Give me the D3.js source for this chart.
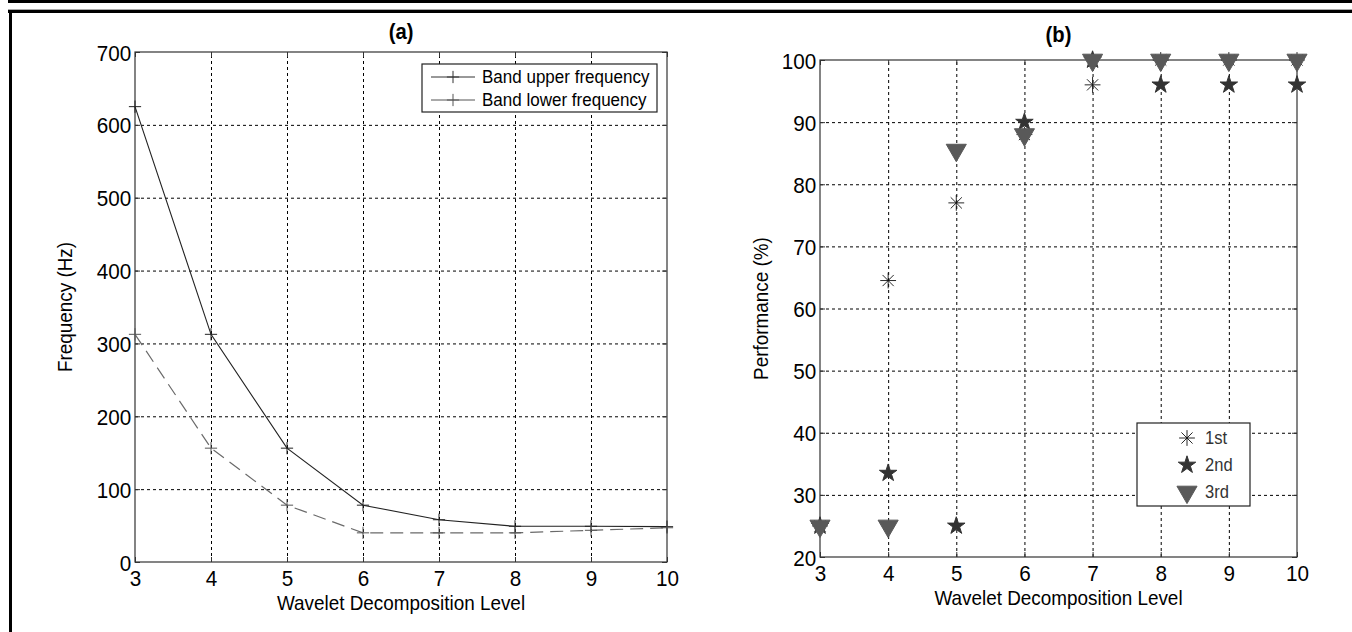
<!DOCTYPE html>
<html>
<head>
<meta charset="utf-8">
<script src="https://cdn.jsdelivr.net/npm/d3@7"></script>
<style>
  body { margin: 0; background: #fff; }
  svg { display: block; font-family: "Liberation Sans", Arial, sans-serif; }
  .grid line { stroke: #000; stroke-dasharray: 3,3; stroke-width: 1; }
  .grid path { display: none; }
  .ax path, .ax line { stroke: #333; }
  .ax text { font-size: 22.5px; fill: #000; }
</style>
</head>
<body>
<div id="fig"></div>
<script>
// panel (a)
var levels = [3, 4, 5, 6, 7, 8, 9, 10];
var upperFreq = [625, 312.5, 156.25, 78, 58, 49, 49, 48.5];
var lowerFreq = [312.5, 156.25, 78, 40, 40, 40, 43.5, 47];
var freqTicks = [0, 100, 200, 300, 400, 500, 600, 700];

// panel (b)
var perf1st = [25, 64.5, 77, 88, 96, 100, 100, 100];
var perf2nd = [25, 33.5, 25, 90, 100, 96, 96, 96];
var perf3rd = [25, 25, 85.5, 88, 100, 100, 100, 100];
var perfTicks = [20, 30, 40, 50, 60, 70, 80, 90, 100];

var W = 1352, H = 632;
var svg = d3.select("#fig").append("svg").attr("width", W).attr("height", H);

// page frame lines
svg.append("rect").attr("x", 8).attr("y", 0).attr("width", W - 8).attr("height", 3).attr("fill", "#000");
svg.append("rect").attr("x", 8).attr("y", 9).attr("width", W - 8).attr("height", 1).attr("fill", "#aaa");
svg.append("rect").attr("x", 8).attr("y", 10).attr("width", W - 8).attr("height", 3).attr("fill", "#000");
svg.append("rect").attr("x", 9).attr("y", 10).attr("width", 3).attr("height", H - 10).attr("fill", "#000");

// marker shapes (matlab style)
var plusType = { draw: function (c, size) {
  var r = Math.sqrt(size) / 2;
  c.moveTo(-r, 0); c.lineTo(r, 0); c.moveTo(0, -r); c.lineTo(0, r);
} };
var asteriskType = { draw: function (c, size) {
  var r = Math.sqrt(size) / 2, q = r * 0.7071;
  c.moveTo(-r, 0); c.lineTo(r, 0); c.moveTo(0, -r); c.lineTo(0, r);
  c.moveTo(-q, -q); c.lineTo(q, q); c.moveTo(-q, q); c.lineTo(q, -q);
} };

function panel(opt) {
  var x = d3.scaleLinear().domain([3, 10]).range([opt.left, opt.right]);
  var y = d3.scaleLinear().domain(opt.ydom).range([opt.bottom, opt.top]);
  var g = svg.append("g");

  // grid
  g.append("g").attr("class", "grid")
    .attr("transform", "translate(0," + opt.bottom + ")")
    .call(d3.axisBottom(x).tickValues(levels.slice(1, -1)).tickSize(-(opt.bottom - opt.top)).tickFormat(""));
  g.append("g").attr("class", "grid")
    .attr("transform", "translate(" + opt.left + ",0)")
    .call(d3.axisLeft(y).tickValues(opt.yticks.slice(1, -1)).tickSize(-(opt.right - opt.left)).tickFormat(""));

  // box
  g.append("rect").attr("x", opt.left).attr("y", opt.top)
    .attr("width", opt.right - opt.left).attr("height", opt.bottom - opt.top)
    .attr("fill", "none").attr("stroke", "#333").attr("stroke-width", 1.2);

  // axes (inward ticks)
  var xa = g.append("g").attr("class", "ax").attr("transform", "translate(0," + opt.bottom + ")")
    .call(d3.axisBottom(x).tickValues(levels).tickSize(-5).tickPadding(8).tickFormat(d3.format("d")));
  var ya = g.append("g").attr("class", "ax").attr("transform", "translate(" + opt.left + ",0)")
    .call(d3.axisLeft(y).tickValues(opt.yticks).tickSize(-5).tickPadding(4).tickFormat(d3.format("d")));
  xa.select(".domain").remove();
  ya.select(".domain").remove();
  xa.selectAll("text").attr("transform", "scale(0.92,1)");
  ya.selectAll("text").attr("transform", "scale(0.92,1)").attr("dy", "0.36em");
  g.append("g").attr("class", "ax").attr("transform", "translate(0," + opt.top + ")")
    .call(d3.axisTop(x).tickValues(levels).tickSize(-5).tickFormat(""))
    .select(".domain").remove();
  g.append("g").attr("class", "ax").attr("transform", "translate(" + opt.right + ",0)")
    .call(d3.axisRight(y).tickValues(opt.yticks).tickSize(-5).tickFormat(""))
    .select(".domain").remove();

  // titles
  g.append("text").attr("transform", "translate(" + ((opt.left + opt.right) / 2) + "," + (opt.top - opt.titleGap) + ") scale(0.92,1)")
    .attr("text-anchor", "middle").attr("font-size", 22).attr("font-weight", "bold").text(opt.title);
  g.append("text").attr("transform", "translate(" + ((opt.left + opt.right) / 2) + "," + (opt.bottom + 48) + ") scale(0.9,1)")
    .attr("text-anchor", "middle").attr("font-size", 21).text("Wavelet Decomposition Level");
  g.append("text").attr("transform", "translate(" + opt.ylabX + "," + ((opt.top + opt.bottom) / 2) + ") rotate(-90) scale(0.9,1)")
    .attr("text-anchor", "middle").attr("font-size", 21).text(opt.ylabel);

  return {g: g, x: x, y: y};
}

// ---------- (a) ----------
var pa = panel({left: 135, right: 667, top: 52, bottom: 562, ydom: [0, 700], yticks: freqTicks,
  title: "(a)", ylabel: "Frequency (Hz)", ylabX: 72, titleGap: 13});

var lineA = d3.line().x(function (d, i) { return pa.x(levels[i]); }).y(function (d) { return pa.y(d); });
var plus = d3.symbol().type(plusType).size(150);

pa.g.append("path").datum(lowerFreq).attr("d", lineA).attr("fill", "none")
  .attr("stroke", "#6a6a6a").attr("stroke-width", 1.2).attr("stroke-dasharray", "13,7");
pa.g.append("path").datum(upperFreq).attr("d", lineA).attr("fill", "none")
  .attr("stroke", "#222").attr("stroke-width", 1.1);

[[upperFreq, "#222"], [lowerFreq, "#555"]].forEach(function (s) {
  pa.g.selectAll(null).data(s[0]).enter().append("path")
    .attr("d", plus).attr("fill", "none").attr("stroke", s[1]).attr("stroke-width", 1)
    .attr("transform", function (d, i) { return "translate(" + pa.x(levels[i]) + "," + pa.y(d) + ")"; });
});

// legend (a)
var lgA = pa.g.append("g");
lgA.append("rect").attr("x", 422).attr("y", 64).attr("width", 235).attr("height", 48)
  .attr("fill", "#fff").attr("stroke", "#222").attr("stroke-width", 1.2);
[["Band upper frequency", "#333"], ["Band lower frequency", "#555"]].forEach(function (e, i) {
  var yy = 77 + i * 23;
  lgA.append("line").attr("x1", 431).attr("x2", 475).attr("y1", yy).attr("y2", yy)
    .attr("stroke", e[1]).attr("stroke-width", 1);
  lgA.append("path").attr("d", plus).attr("fill", "none").attr("stroke", e[1])
    .attr("transform", "translate(453," + yy + ")");
  lgA.append("text").attr("transform", "translate(482," + (yy + 6) + ") scale(0.92,1)")
    .attr("font-size", 18.5).text(e[0]);
});

// ---------- (b) ----------
var pb = panel({left: 820, right: 1297, top: 60, bottom: 557, ydom: [20, 100], yticks: perfTicks,
  title: "(b)", ylabel: "Performance (%)", ylabX: 768, titleGap: 18});

var tri = d3.symbol().type(d3.symbolTriangle).size(175);
var star = d3.symbol().type(d3.symbolStar).size(95);
var ast = d3.symbol().type(asteriskType).size(250);

function drawAsterisk(sel) {
  sel.append("path").attr("d", ast).attr("fill", "none").attr("stroke", "#111").attr("stroke-width", 0.9);
}
function drawStar(sel) { sel.append("path").attr("d", star).attr("fill", "#333").attr("stroke", "#333"); }
function drawTri(sel) {
  sel.append("path").attr("d", tri).attr("transform", "rotate(180)").attr("fill", "#595959").attr("stroke", "#595959");
}

var seriesB = [[perf1st, drawAsterisk], [perf2nd, drawStar], [perf3rd, drawTri]];
seriesB.forEach(function (s) {
  pb.g.selectAll(null).data(s[0]).enter().append("g")
    .attr("transform", function (d, i) { return "translate(" + pb.x(levels[i]) + "," + pb.y(d) + ")"; })
    .call(s[1]);
});

// legend (b)
var lgB = pb.g.append("g");
lgB.append("rect").attr("x", 1137).attr("y", 423).attr("width", 113).attr("height", 83)
  .attr("fill", "#fff").attr("stroke", "#222").attr("stroke-width", 1.2);
[["1st", drawAsterisk], ["2nd", drawStar], ["3rd", drawTri]].forEach(function (e, i) {
  var yy = 438 + i * 27;
  lgB.append("g").attr("transform", "translate(1187," + yy + ")").call(e[1]);
  lgB.append("text").attr("transform", "translate(1205," + (yy + 6) + ") scale(0.92,1)")
    .attr("font-size", 18).attr("fill", "#333").text(e[0]);
});
</script>
</body>
</html>
